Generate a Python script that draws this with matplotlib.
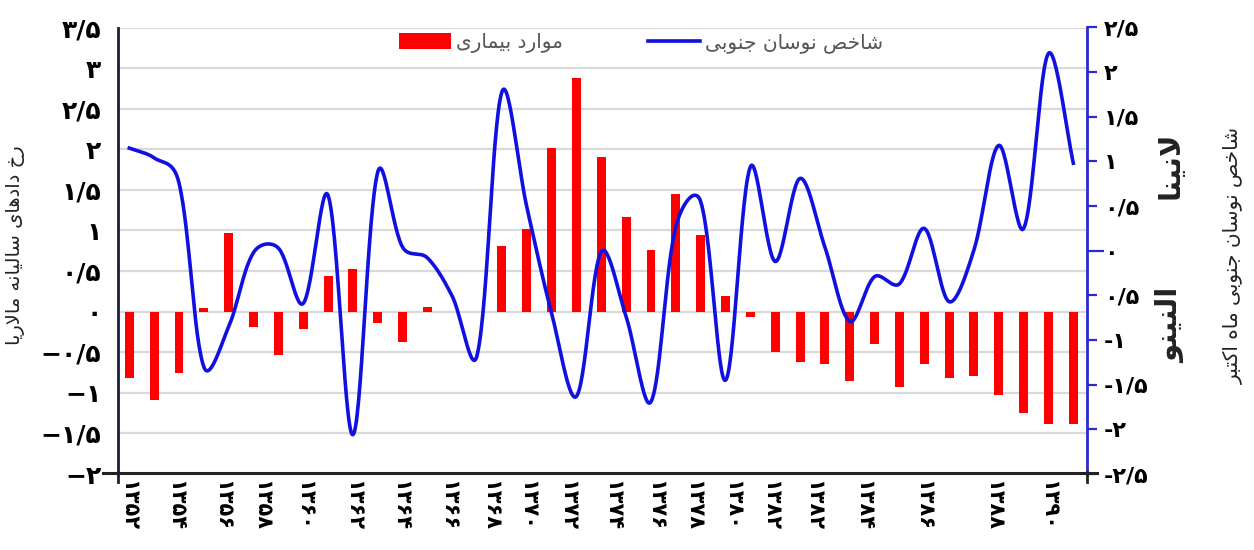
import numpy as np
import matplotlib
matplotlib.use('Agg')
import matplotlib.pyplot as plt
from matplotlib.lines import Line2D
from matplotlib.patches import Patch

plt.rcParams['font.family'] = ['DejaVu Sans']

# ---------------- data ----------------
years = list(range(1352, 1391))
cases = [-0.82, -1.09, -0.76, 0.05, 0.97, -0.19, -0.54, -0.22, 0.44, 0.52,
         -0.14, -0.38, 0.06, 0.0, 0.0, 0.81, 1.02, 2.01, 2.88, 1.90,
         1.17, 0.76, 1.45, 0.95, 0.19, -0.06, -0.50, -0.62, -0.65, -0.85,
         -0.40, -0.93, -0.65, -0.82, -0.79, -1.03, -1.25, -1.39, -1.39]
soi = [1.15, 1.04, 0.76, -1.30, -0.85, -0.02, 0.03, -0.59, 0.62, -2.06,
       0.88, 0.04, -0.08, -0.51, -1.17, 1.78, 0.49, -0.70, -1.63, -0.01,
       -0.74, -1.69, 0.27, 0.55, -1.45, 0.94, -0.12, 0.81, 0.04, -0.79,
       -0.29, -0.37, 0.25, -0.57, 0.01, 1.18, 0.25, 2.21, 0.98]
year_labels = ['۱۳۵۲', '۱۳۵۴', '۱۳۵۶', '۱۳۵۸', '۱۳۶۰', '۱۳۶۲', '۱۳۶۴', '۱۳۶۶',
               '۱۳۶۸', '۱۳۷۰', '۱۳۷۲', '۱۳۷۴', '۱۳۷۶', '۱۳۷۸', '۱۳۸۰', '۱۳۸۲',
               '۱۳۸۲', '۱۳۸۴', '۱۳۸۶', '۱۳۸۸', '۱۳۹۰']
left_ticks = [-2, -1.5, -1, -0.5, 0, 0.5, 1, 1.5, 2, 2.5, 3, 3.5]
left_labels = ['−۲', '−۱/۵', '−۱', '−۰/۵', '۰', '۰/۵', '۱', '۱/۵', '۲', '۲/۵', '۳', '۳/۵']
right_ticks = [-2.5, -2, -1.5, -1, -0.5, 0, 0.5, 1, 1.5, 2, 2.5]
right_labels = ['-۲/۵', '-۲', '-۱/۵', '-۱', '۰/۵', '۰', '۰/۵', '۱', '۱/۵', '۲', '۲/۵']

# label positions along the category axis (layout, as in the source chart)
year_label_pos = [-0.05, 1.84, 3.73, 5.30, 7.03, 9.0, 10.89, 12.82, 14.51, 16.0,
                  17.61, 19.42, 21.15, 22.68, 24.25, 25.78, 27.51, 29.52, 31.94,
                  34.76, 36.97]


def vis(*codes):
    """Arabic presentation-form code points in logical order -> visual (LTR) string."""
    return ''.join(chr(c) if isinstance(c, int) else c for c in codes)[::-1]


legend_cases = vis(0xFEE3, 0xFEEE, 0xFE8D, 0xFEAD, 0xFEA9, ' ',
                   0xFE91, 0xFEF4, 0xFEE4, 0xFE8E, 0xFEAD, 0xFEEF)
legend_soi = vis(0xFEB7, 0xFE8E, 0xFEA7, 0xFEBA, ' ',
                 0xFEE7, 0xFEEE, 0xFEB3, 0xFE8E, 0xFEE5, ' ',
                 0xFE9F, 0xFEE8, 0xFEEE, 0xFE91, 0xFEF0)
left_title = vis(0xFEAD, 0xFEA5, ' ',
                 0xFEA9, 0xFE8D, 0xFEA9, 0xFEEB, 0xFE8E, 0xFEEF, ' ',
                 0xFEB3, 0xFE8E, 0xFEDF, 0xFEF4, 0xFE8E, 0xFEE7, 0xFEEA, ' ',
                 0xFEE3, 0xFE8E, 0xFEFB, 0xFEAD, 0xFEF3, 0xFE8E)
right_title = vis(0xFEB7, 0xFE8E, 0xFEA7, 0xFEBA, ' ',
                  0xFEE7, 0xFEEE, 0xFEB3, 0xFE8E, 0xFEE5, ' ',
                  0xFE9F, 0xFEE8, 0xFEEE, 0xFE91, 0xFEF0, ' ',
                  0xFEE3, 0xFE8E, 0xFEE9, ' ',
                  0xFE8D, 0xFB90, 0xFE98, 0xFE92, 0xFEAE)
la_nina = vis(0xFEFB, 0xFEE7, 0xFEF4, 0xFEE8, 0xFE8E)
el_nino = vis(0xFE8D, 0xFEDF, 0xFEE8, 0xFEF4, 0xFEE8, 0xFEEE)


def smooth_curve(xs, ys, sx=1.0, sy=1.0, n=30):
    """Bezier smoothing through the points; tangents partly split by segment
    length (screen units sx, sy) to limit overshoot."""
    P = np.column_stack([xs, ys]).astype(float)
    S = np.array([sx, sy])
    m = len(P)
    out = []
    for i in range(m - 1):
        p1, p2 = P[i], P[i + 1]
        p0 = P[i - 1] if i > 0 else P[i]
        p3 = P[i + 2] if i + 2 < m else P[i + 1]
        l01 = np.linalg.norm((p1 - p0) * S)
        l12 = np.linalg.norm((p2 - p1) * S)
        l23 = np.linalg.norm((p3 - p2) * S)
        f1 = l12 / (l01 + l12) if (l01 + l12) > 0 else 0.5
        f2 = l12 / (l12 + l23) if (l12 + l23) > 0 else 0.5
        f1 = 0.25 + 0.5 * f1
        f2 = 0.25 + 0.5 * f2
        c1 = p1 + (p2 - p0) * f1 / 3.0
        c2 = p2 - (p3 - p1) * f2 / 3.0
        t = np.linspace(0, 1, n, endpoint=(i == m - 2))[:, None]
        seg = ((1 - t) ** 3) * p1 + 3 * ((1 - t) ** 2) * t * c1 + 3 * (1 - t) * t ** 2 * c2 + t ** 3 * p2
        out.append(seg)
    out = np.vstack(out)
    return out[:, 0], out[:, 1]


W, H = 1254, 550
fig = plt.figure(figsize=(W / 100, H / 100), dpi=100)
fig.patch.set_facecolor('white')

ax_l, ax_r, ax_t, ax_b = 118, 1087, 27.5, 474
ax = fig.add_axes([ax_l / W, 1 - ax_b / H, (ax_r - ax_l) / W, (ax_b - ax_t) / H])
x = np.arange(len(years))

x0, x1 = -0.455, 38.55
ax.set_xlim(x0, x1)
ax.set_ylim(-2, 3.5)
for yv in left_ticks[1:]:
    ax.axhline(yv, color='#d9d9d9', lw=1.6, zorder=0)
ax.bar(x, cases, width=0.36, color='#ff0000', zorder=2, label=legend_cases)

ax.set_yticks(left_ticks)
ax.set_yticklabels(left_labels, fontsize=18, fontweight='bold')
ax.tick_params(axis='y', length=0, pad=12)
ax.set_xticks(year_label_pos)
ax.set_xticklabels(year_labels, rotation=270, fontsize=15, fontweight='bold')
ax.tick_params(axis='x', length=0, pad=4)
for s in ['top', 'right', 'bottom']:
    ax.spines[s].set_visible(False)
ax.spines['left'].set_color('#1c1c3c')
ax.spines['left'].set_linewidth(2)

ax2 = ax.twinx()
y0, y1 = -2.5, 2.5
ax2.set_ylim(y0, y1)
px_x = (ax_r - ax_l) / (x1 - x0)
px_y = (ax_b - ax_t) / (y1 - y0)
sxv, syv = smooth_curve(x, soi, px_x, px_y)
ax2.plot(sxv, syv, color='#1010e0', lw=2.6, zorder=3, label=legend_soi)
ax2.set_yticks(right_ticks)
ax2.set_yticklabels(right_labels, fontsize=16, fontweight='bold')
ax2.tick_params(axis='y', length=7, width=1.6, color='#2a2ad0', pad=5)
for s in ['top', 'left', 'bottom']:
    ax2.spines[s].set_visible(False)
ax2.spines['right'].set_color('#2a2ad0')
ax2.spines['right'].set_linewidth(2)
for tk, tv in zip(ax2.yaxis.get_major_ticks(), right_ticks):
    if tv == 0:
        tk.tick2line.set_color('#333333')
        tk.tick2line.set_markersize(12)

# x axis line extending beyond both vertical axes, with small cross at left
fig.add_artist(Line2D([103 / W, 1097 / W], [1 - 472.5 / H, 1 - 472.5 / H],
                      color='#222222', lw=2.2))
fig.add_artist(Line2D([118 / W, 118 / W], [1 - 472 / H, 1 - 482 / H],
                      color='#222222', lw=2))
fig.add_artist(Line2D([1087 / W, 1087 / W], [1 - 472 / H, 1 - 482 / H],
                      color='#222222', lw=2))

# legend
handles = [Patch(facecolor='#ff0000', edgecolor='none'),
           Line2D([0], [0], color='#1010e0', lw=2.6)]
leg = fig.legend(handles, [legend_cases, legend_soi], ncol=2, frameon=False,
                 loc='center', bbox_to_anchor=(641 / W, 1 - 43 / H),
                 fontsize=14.5, handlelength=2.6, handleheight=0.8,
                 columnspacing=4.2, handletextpad=0.25)
for t in leg.get_texts():
    t.set_color('#555555')

# axis titles
fig.text(16 / W, 1 - 245 / H, left_title, rotation=90, ha='center', va='center',
         fontsize=14, color='#222222')
fig.text(1233 / W, 1 - 255 / H, right_title, rotation=90, ha='center', va='center',
         fontsize=14.5, color='#222222')
fig.text(1171 / W, 1 - 165 / H, la_nina, rotation=90, ha='center', va='center',
         fontsize=21, fontweight='bold', color='#222222')
fig.text(1171 / W, 1 - 325 / H, el_nino, rotation=90, ha='center', va='center',
         fontsize=21, fontweight='bold', color='#222222')

fig.savefig('out.png', dpi=100, facecolor='white')
